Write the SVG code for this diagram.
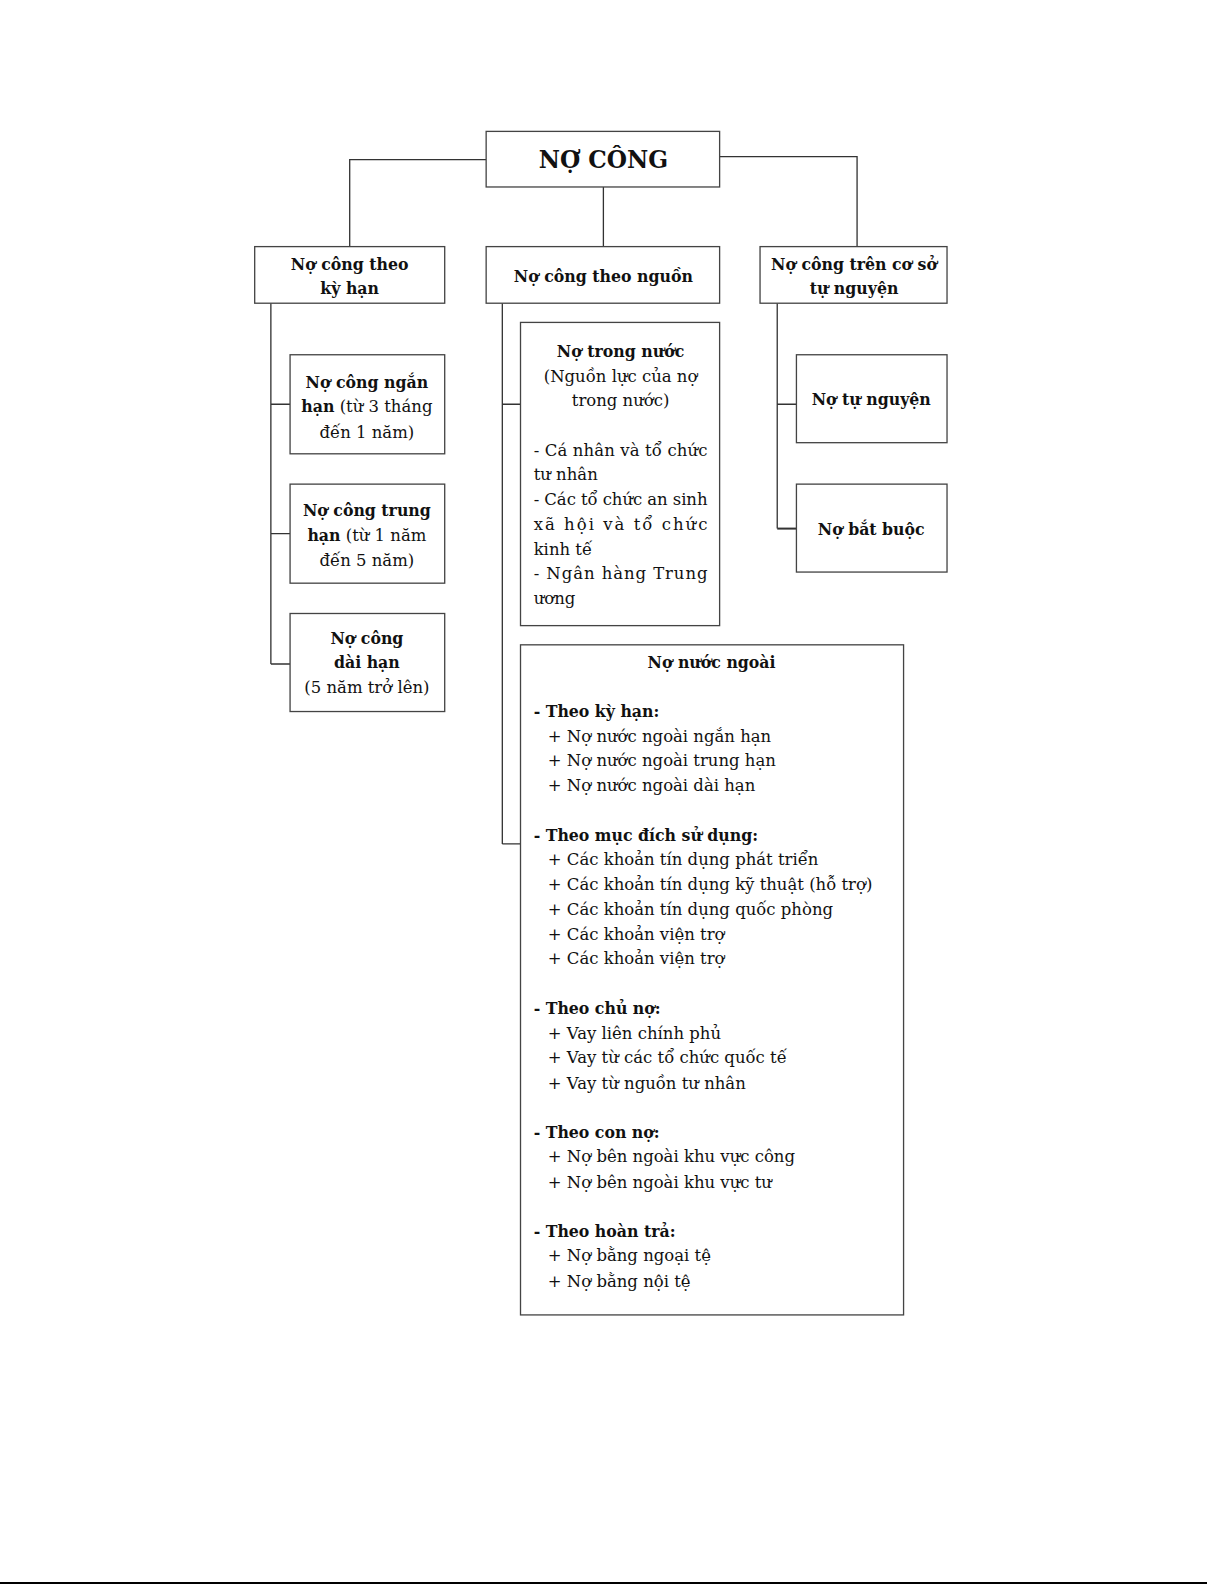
<svg xmlns="http://www.w3.org/2000/svg" width="1225" height="1585" viewBox="0 0 1225 1585">
<style>
.box{fill:#fff;stroke:#444;stroke-width:1.3}
.c{fill:none;stroke:#333;stroke-width:1.3}
text{font-family:"DejaVu Serif","Liberation Serif",serif;font-size:16.3px;fill:#111}
.b{font-weight:bold;font-size:15.6px}
.m{text-anchor:middle}
.t{font-size:23px;font-weight:bold}
</style>
<rect width="1225" height="1585" fill="#fff"/>
<g transform="scale(1.0107)">
<g id="connectors">
<path class="c" d="M481 158 H346 V244"/>
<path class="c" d="M712 155 H848 V244"/>
<path class="c" d="M597 185 V244"/>
<path class="c" d="M268 300 V657 M268 400 H287 M268 528 H287 M268 657 H287"/>
<path class="c" d="M497 300 V835 M497 400 H515 M497 835 H515"/>
<path class="c" d="M769 300 V523 M769 400 H788"/>
<path class="c" style="stroke-width:2" d="M769 523 H788"/>
</g>
<g id="root">
<rect class="box" x="481" y="130" width="231" height="55"/>
<text class="t m" x="597" y="166">NỢ CÔNG</text>
</g>
<g id="ky-han">
<rect class="box" x="252" y="244" width="188" height="56"/>
<text class="b m" x="346" y="267">Nợ công theo</text>
<text class="b m" x="346" y="291">kỳ hạn</text>
</g>
<g id="theo-nguon">
<rect class="box" x="481" y="244" width="231" height="56"/>
<text class="b m" x="597" y="279">Nợ công theo nguồn</text>
</g>
<g id="tu-nguyen-group">
<rect class="box" x="752" y="244" width="185" height="56"/>
<text class="b m" x="845" y="267">Nợ công trên cơ sở</text>
<text class="b m" x="845" y="291">tự nguyện</text>
</g>
<g id="ngan-han">
<rect class="box" x="287" y="351" width="153" height="98"/>
<text class="b m" x="363" y="384">Nợ công ngắn</text>
<text class="m" x="363" y="408"><tspan class="b">hạn</tspan> (từ 3 tháng</text>
<text class="m" x="363" y="433">đến 1 năm)</text>
</g>
<g id="trung-han">
<rect class="box" x="287" y="479" width="153" height="98"/>
<text class="b m" x="363" y="511">Nợ công trung</text>
<text class="m" x="363" y="535"><tspan class="b">hạn</tspan> (từ 1 năm</text>
<text class="m" x="363" y="560">đến 5 năm)</text>
</g>
<g id="dai-han">
<rect class="box" x="287" y="607" width="153" height="97"/>
<text class="b m" x="363" y="637">Nợ công</text>
<text class="b m" x="363" y="661">dài hạn</text>
<text class="m" x="363" y="686">(5 năm trở lên)</text>
</g>
<g id="trong-nuoc">
<rect class="box" x="515" y="319" width="197" height="300"/>
<text class="b m" x="614" y="353">Nợ trong nước</text>
<text class="m" x="614" y="378">(Nguồn lực của nợ</text>
<text class="m" x="614" y="402">trong nước)</text>
<text x="528" y="451" textLength="172" lengthAdjust="spacing">- Cá nhân và tổ chức</text>
<text x="528" y="475">tư nhân</text>
<text x="528" y="500" textLength="172" lengthAdjust="spacing">- Các tổ chức an sinh</text>
<text x="528" y="524" textLength="172" lengthAdjust="spacing">xã hội và tổ chức</text>
<text x="528" y="549">kinh tế</text>
<text x="528" y="573" textLength="172" lengthAdjust="spacing">- Ngân hàng Trung</text>
<text x="528" y="598">ương</text>
</g>
<g id="nuoc-ngoai">
<rect class="box" x="515" y="638" width="379" height="663"/>
<text class="b m" x="704" y="661">Nợ nước ngoài</text>
<text class="b" x="528" y="709">- Theo kỳ hạn:</text>
<text x="542" y="734">+ Nợ nước ngoài ngắn hạn</text>
<text x="542" y="758">+ Nợ nước ngoài trung hạn</text>
<text x="542" y="783">+ Nợ nước ngoài dài hạn</text>
<text class="b" x="528" y="832">- Theo mục đích sử dụng:</text>
<text x="542" y="856">+ Các khoản tín dụng phát triển</text>
<text x="542" y="881">+ Các khoản tín dụng kỹ thuật (hỗ trợ)</text>
<text x="542" y="905">+ Các khoản tín dụng quốc phòng</text>
<text x="542" y="930">+ Các khoản viện trợ</text>
<text x="542" y="954">+ Các khoản viện trợ</text>
<text class="b" x="528" y="1003">- Theo chủ nợ:</text>
<text x="542" y="1028">+ Vay liên chính phủ</text>
<text x="542" y="1052">+ Vay từ các tổ chức quốc tế</text>
<text x="542" y="1077">+ Vay từ nguồn tư nhân</text>
<text class="b" x="528" y="1126">- Theo con nợ:</text>
<text x="542" y="1150">+ Nợ bên ngoài khu vực công</text>
<text x="542" y="1175">+ Nợ bên ngoài khu vực tư</text>
<text class="b" x="528" y="1224">- Theo hoàn trả:</text>
<text x="542" y="1248">+ Nợ bằng ngoại tệ</text>
<text x="542" y="1273">+ Nợ bằng nội tệ</text>
</g>
<g id="tu-nguyen">
<rect class="box" x="788" y="351" width="149" height="87"/>
<text class="b m" x="862" y="401">Nợ tự nguyện</text>
</g>
<g id="bat-buoc">
<rect class="box" x="788" y="479" width="149" height="87"/>
<text class="b m" x="862" y="529">Nợ bắt buộc</text>
</g>
</g>
<line x1="0" y1="1583" x2="1207" y2="1583" stroke="#000" stroke-width="2"/>
</svg>
